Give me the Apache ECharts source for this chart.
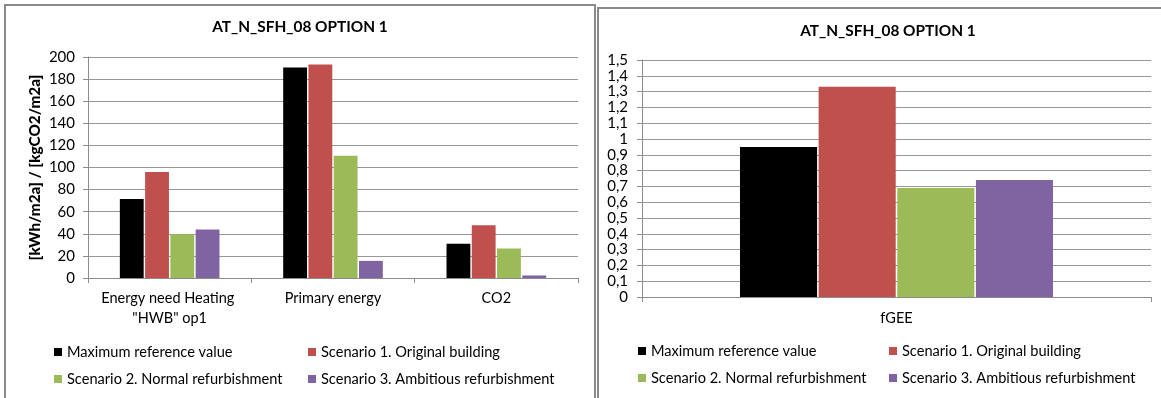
<!DOCTYPE html>
<html><head><meta charset="utf-8">
<script src="https://cdn.jsdelivr.net/npm/echarts@6/dist/echarts.min.js"></script>
<style>html,body{margin:0;padding:0;background:#fff;overflow:hidden}#c{width:1161px;height:398px}</style>
</head><body><div id="c"></div>
<script>
// ---- data ----
const categories = ['Energy need Heating "HWB" op1', 'Primary energy', 'CO2'];
const maxReference = [71.5, 190.5, 31];
const scenario1 = [96, 193.3, 47.8];
const scenario2 = [39.7, 110.7, 26.7];
const scenario3 = [44, 15.5, 2.3];

const fgeeCategories = ['fGEE'];
const fgeeMaxReference = [0.95];
const fgeeScenario1 = [1.33];
const fgeeScenario2 = [0.69];
const fgeeScenario3 = [0.74];

const seriesNames = ['Maximum reference value', 'Scenario 1. Original building', 'Scenario 2. Normal refurbishment', 'Scenario 3. Ambitious refurbishment'];
const chartTitle = 'AT_N_SFH_08 OPTION 1';
const yAxisName = '[kWh/m2a] / [kgCO2/m2a]';

// ---- style ----
const colors = ['#000000', '#C0504D', '#9BBB59', '#8064A2'];
const FONT = 'Lato';
const FS = 14.5;
const gridColor = '#979797';
const axisColor = '#8c8c8c';

const leftData = [maxReference, scenario1, scenario2, scenario3];
const rightData = [fgeeMaxReference, fgeeScenario1, fgeeScenario2, fgeeScenario3];

function legend(left, top, names) {
  return {
    orient: 'vertical', left: left, top: top, padding: 0,
    itemWidth: 8, itemHeight: 8, itemGap: 11, icon: 'rect',
    selectedMode: false,
    textStyle: { fontFamily: FONT, fontSize: 14.6, color: '#000', lineHeight: 16 },
    data: names
  };
}

const series = [];
leftData.forEach((d, i) => series.push({
  name: seriesNames[i], type: 'bar', xAxisIndex: 0, yAxisIndex: 0, data: d,
  itemStyle: { color: colors[i] }, barGap: '6%', barCategoryGap: '39%'
}));
rightData.forEach((d, i) => series.push({
  name: seriesNames[i], type: 'bar', xAxisIndex: 1, yAxisIndex: 1, data: d,
  itemStyle: { color: colors[i] }, barGap: '2%', barCategoryGap: '38.5%'
}));

const titleStyle = { fontFamily: FONT, fontSize: 15.4, fontWeight: 'bold', color: '#000' };

const option = {
  animation: false,
  backgroundColor: '#fff',
  title: [
    { text: chartTitle, left: 300, top: 20, textAlign: 'center', padding: 0, textStyle: titleStyle },
    { text: chartTitle, left: 888, top: 24, textAlign: 'center', padding: 0, textStyle: titleStyle }
  ],
  legend: [
    legend(54, 344, [seriesNames[0], seriesNames[2]]),
    legend(308, 344, [seriesNames[1], seriesNames[3]]),
    legend(638, 343, [seriesNames[0], seriesNames[2]]),
    legend(889, 343, [seriesNames[1], seriesNames[3]])
  ],
  grid: [
    { left: 88, top: 57, width: 490, height: 221 },
    { left: 642, top: 60, width: 509, height: 237 }
  ],
  xAxis: [
    { type: 'category', gridIndex: 0, data: categories,
      axisLine: { lineStyle: { color: axisColor } },
      axisTick: { show: true, length: 5, lineStyle: { color: axisColor } },
      axisLabel: { interval: 0, color: '#000', fontFamily: FONT, fontSize: FS, margin: 10, lineHeight: 20, width: 150, overflow: 'break' } },
    { type: 'category', gridIndex: 1, data: fgeeCategories,
      axisLine: { lineStyle: { color: axisColor } },
      axisTick: { show: true, length: 5, lineStyle: { color: axisColor } },
      axisLabel: { color: '#000', fontFamily: FONT, fontSize: FS, margin: 11, lineHeight: 20 } }
  ],
  yAxis: [
    { type: 'value', gridIndex: 0, min: 0, max: 200, interval: 20,
      name: yAxisName, nameLocation: 'middle', nameGap: 45,
      nameTextStyle: { fontFamily: FONT, fontSize: 15.3, fontWeight: 900, color: '#000' },
      axisLine: { show: true, lineStyle: { color: axisColor } },
      axisTick: { show: true, length: 5, lineStyle: { color: axisColor } },
      splitLine: { lineStyle: { color: gridColor } },
      axisLabel: { color: '#000', fontFamily: FONT, fontSize: 15, margin: 13 } },
    { type: 'value', gridIndex: 1, min: 0, max: 1.5, interval: 0.1,
      axisLine: { show: true, lineStyle: { color: axisColor } },
      axisTick: { show: true, length: 5, lineStyle: { color: axisColor } },
      splitLine: { lineStyle: { color: gridColor } },
      axisLabel: { color: '#000', fontFamily: FONT, fontSize: 15, margin: 14,
        formatter: v => String(Math.round(v * 10) / 10).replace('.', ',') } }
  ],
  graphic: [
    { type: 'rect', shape: { x: 5, y: 5, width: 590, height: 420 },
      style: { fill: 'none', stroke: '#8a8a8a', lineWidth: 2 }, silent: true },
    { type: 'rect', shape: { x: 598, y: 8, width: 600, height: 420 },
      style: { fill: 'none', stroke: '#8a8a8a', lineWidth: 2 }, silent: true }
  ],
  series: series
};

const chart = echarts.init(document.getElementById('c'), null, { renderer: 'canvas' });
chart.setOption(option);
</script>
</body></html>
